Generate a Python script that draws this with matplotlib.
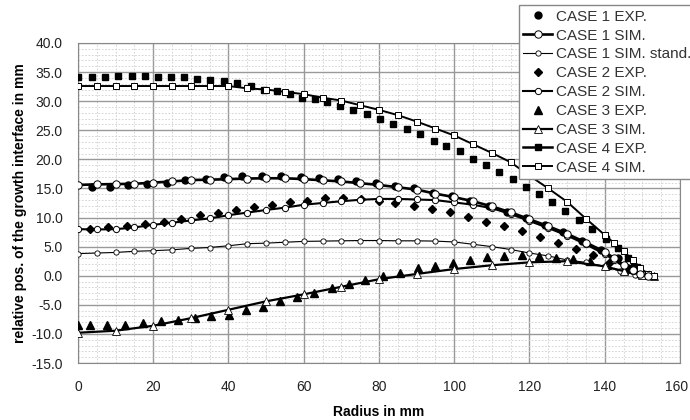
import matplotlib
matplotlib.use("Agg")
import matplotlib.pyplot as plt
from matplotlib.lines import Line2D
from matplotlib.ticker import MultipleLocator, FormatStrFormatter

plt.rcParams['font.family'] = ['Liberation Sans', 'DejaVu Sans']

# --- data ---
x_ticks = [0, 20, 40, 60, 80, 100, 120, 140, 160]

case1_exp_x = [3.6, 8.5, 13.4, 18.4, 23.6, 28.5, 33.9, 38.8, 43.6, 49.0,
               54.0, 59.2, 64.1, 69.0, 73.9, 79.2, 84.3, 89.3, 94.3, 99.4,
               104.3, 109.2, 114.1, 119.0, 124.0, 129.0, 134.0, 139.0, 143.5, 147.5]
case1_exp_y = [15.3, 15.2, 15.6, 15.8, 16.0, 16.4, 16.6, 17.0, 17.1, 17.1,
               17.1, 16.9, 16.8, 16.6, 16.2, 15.9, 15.4, 15.0, 14.3, 13.7,
               12.9, 12.0, 11.0, 9.9, 8.8, 7.5, 6.0, 4.5, 3.0, 1.5]

sim_x = [0, 5, 10, 15, 20, 25, 30, 35, 40, 45, 50, 55, 60, 65, 70, 75, 80, 85,
         90, 95, 100, 105, 110, 115, 120, 125, 130, 135, 140,
         142.5, 145, 147.5, 149.5, 151.5]
case1_sim_y = [15.6, 15.7, 15.75, 15.8, 16.0, 16.2, 16.45, 16.5, 16.6, 16.7,
               16.75, 16.75, 16.6, 16.4, 16.2, 15.9, 15.6, 15.2, 14.8, 14.1,
               13.5, 12.8, 11.9, 10.9, 9.7, 8.5, 7.2, 5.7, 4.1,
               3.0, 1.9, 1.0, 0.3, -0.1]
case2_sim_y = [8.0, 7.95, 8.0, 8.3, 8.75, 9.1, 9.5, 9.85, 10.4, 10.85,
               11.3, 11.7, 12.2, 12.5, 12.8, 13.05, 13.2, 13.2, 13.1, 13.0,
               12.6, 12.2, 11.6, 10.6, 9.4, 8.2, 6.9, 5.4, 3.7,
               2.7, 1.6, 0.8, 0.2, -0.1]

stand_x = [0, 5, 10, 15, 20, 25, 30, 35, 40, 45, 50, 55, 60, 65, 70, 75, 80,
           85, 90, 95, 100, 105, 110, 115, 120, 125, 130, 135, 140, 144, 148, 151.5]
stand_y = [3.8, 3.9, 4.0, 4.2, 4.3, 4.45, 4.7, 4.85, 5.15, 5.5,
           5.6, 5.75, 5.9, 5.95, 6.0, 6.05, 6.05, 6.0, 6.0, 5.95,
           5.8, 5.4, 5.0, 4.5, 3.9, 3.4, 2.7, 2.3, 1.6, 0.8, 0.2, 0.0]

case2_exp_x = [3.2, 8.1, 13.0, 17.9, 22.8, 27.5, 32.3, 37.2, 41.9, 46.8,
               51.5, 56.3, 61.0, 65.6, 70.4, 75.2, 80.0, 84.3, 89.3, 94.1,
               99.0, 103.6, 108.4, 113.2, 117.9, 122.7, 127.5, 132.3, 136.9, 141.5, 146.3]
case2_exp_y = [8.0, 8.3, 8.6, 8.9, 9.3, 9.8, 10.4, 10.8, 11.3, 11.8,
               12.2, 12.6, 12.9, 13.3, 13.3, 13.2, 12.9, 12.5, 12.0, 11.5,
               10.9, 10.1, 9.3, 8.6, 7.6, 6.65, 5.7, 4.6, 3.5, 2.4, 1.3]

case3_exp_x = [0, 3.2, 7.8, 12.6, 17.4, 22.0, 26.5, 31.2, 35.3, 40.1,
               44.7, 49.2, 53.8, 58.3, 62.7, 67.5, 71.9, 76.4, 81.0, 85.6,
               90.3, 95.0, 99.6, 104.2, 108.8, 113.3, 117.9, 122.6, 127.0, 131.6,
               136.2, 140.6, 145.0, 149.0]
case3_exp_y = [-8.5, -8.4, -8.5, -8.4, -8.1, -7.8, -7.6, -7.3, -7.0, -6.7,
               -5.9, -5.3, -4.4, -3.7, -2.95, -2.1, -1.5, -0.7, -0.1, 0.5,
               1.3, 1.7, 2.2, 2.75, 3.2, 3.4, 3.6, 3.35, 3.1, 2.8,
               2.45, 1.8, 1.0, 0.4]

case3_sim_x = [0, 10, 20, 30, 40, 50, 60, 70, 80, 90, 100, 110, 120, 130,
               140, 145, 150, 153]
case3_sim_y = [-9.8, -9.45, -8.6, -7.3, -5.85, -4.4, -3.2, -1.9, -0.6, 0.3,
               1.15, 1.8, 2.3, 2.5, 1.6, 0.8, 0.2, 0.0]

case4_exp_x = [0, 3.6, 7.2, 10.7, 14.3, 17.9, 21.2, 24.8, 28.3, 31.6,
               35.2, 38.8, 42.3, 45.9, 49.4, 52.8, 56.4, 59.6, 62.9, 66.3,
               69.7, 73.2, 76.8, 80.3, 83.8, 87.4, 90.9, 94.5, 97.9, 101.4,
               105.0, 108.4, 112.0, 115.5, 119.0, 122.5, 126.0, 129.4, 133.2, 136.5,
               140.3, 143.6, 146.1, 148.5]
case4_exp_y = [34.2, 34.2, 34.2, 34.4, 34.4, 34.4, 34.2, 34.2, 34.1, 33.8,
               33.7, 33.4, 33.1, 32.6, 32.0, 31.8, 31.2, 30.6, 30.3, 29.8,
               29.2, 28.5, 27.8, 26.9, 26.1, 25.2, 24.4, 23.2, 22.3, 21.4,
               20.1, 19.0, 17.9, 16.6, 15.2, 14.0, 12.7, 11.1, 9.6, 8.1,
               6.3, 4.8, 3.0, 1.5]

case4_sim_x = [0, 5, 10, 15, 20, 25, 30, 35, 40, 45, 50, 55, 60, 65, 70, 75, 80,
               85, 90, 95, 100, 105, 110, 115, 120, 125, 130, 135, 140,
               142.5, 145, 147.5, 149.5, 151.5, 153]
case4_sim_y = [32.6, 32.6, 32.6, 32.6, 32.6, 32.6, 32.6, 32.6, 32.6, 32.2,
               32.0, 31.6, 31.2, 30.6, 30.1, 29.3, 28.5, 27.6, 26.5, 25.3,
               24.1, 22.6, 21.1, 19.5, 17.2, 15.0, 12.7, 9.8, 7.0,
               5.6, 4.2, 2.7, 1.3, 0.3, 0.0]

labels = ['CASE 1 EXP.', 'CASE 1 SIM.', 'CASE 1 SIM. stand.', 'CASE 2 EXP.',
          'CASE 2 SIM.', 'CASE 3 EXP.', 'CASE 3 SIM.', 'CASE 4 EXP.', 'CASE 4 SIM.']

fig = plt.figure(figsize=(6.9, 4.2), dpi=100)
ax = fig.add_axes([0.113, 0.1357, 0.8725, 0.762])

# experiments (markers only)
ax.plot(case1_exp_x, case1_exp_y, 'o', color='black', ms=5, zorder=3)
ax.plot(case2_exp_x, case2_exp_y, 'D', color='black', ms=4.5, zorder=3)
ax.plot(case3_exp_x, case3_exp_y, '^', color='black', ms=6, zorder=3)
ax.plot(case4_exp_x, case4_exp_y, 's', color='black', ms=4.8, zorder=3)

# simulations (lines with open markers)
ax.plot(stand_x, stand_y, '-o', color='black', lw=0.8, ms=3.8, mfc='white', mew=0.6, zorder=4)
ax.plot(sim_x, case2_sim_y, '-o', color='black', lw=1.5, ms=4.5, mfc='white', mew=0.7, zorder=4)
ax.plot(sim_x, case1_sim_y, '-o', color='black', lw=1.9, ms=5.3, mfc='white', mew=0.7, zorder=5)
ax.plot(case3_sim_x, case3_sim_y, '-^', color='black', lw=1.6, ms=5.3, mfc='white', mew=0.6, zorder=4)
ax.plot(case4_sim_x, case4_sim_y, '-s', color='black', lw=1.4, ms=5, mfc='white', mew=0.7, zorder=4)

ax.set_xlim(0, 160)
ax.set_ylim(-15, 40)
# last label drawn separately so it is not clipped at the right edge
ax.set_xticks(x_ticks, labels=[str(t) for t in x_ticks[:-1]] + [''])
ax.xaxis.set_minor_locator(MultipleLocator(5))
ax.yaxis.set_major_locator(MultipleLocator(5))
ax.yaxis.set_minor_locator(MultipleLocator(1))
ax.yaxis.set_major_formatter(FormatStrFormatter('%.1f'))

ax.grid(which='major', color='#999999', lw=1.0)
ax.grid(which='minor', color='#cfcfcf', lw=0.6, linestyle=(0, (2, 2)))
ax.set_axisbelow(True)
for s in ax.spines.values():
    s.set_color('#888888')
ax.tick_params(which='both', length=0, labelsize=10, colors='#222222')
ax.tick_params(axis='x', pad=12)
ax.tick_params(axis='y', pad=11)

ax.annotate(str(x_ticks[-1]), xy=(x_ticks[-1], 0), xycoords=('data', 'axes fraction'),
            xytext=(-2.5, -12), textcoords='offset points', ha='center', va='top',
            fontsize=10, color='#222222')

ax.set_xlabel('Radius in mm', fontsize=10, fontweight='bold', labelpad=8)
ax.set_ylabel('relative pos. of the growth interface in mm', fontsize=10,
              fontweight='bold', labelpad=3)

# legend proxies
handles = [
    Line2D([], [], ls='none', marker='o', color='black', ms=5),
    Line2D([], [], ls='-', lw=1.9, marker='o', color='black', ms=5.3, mfc='white', mew=0.7),
    Line2D([], [], ls='-', lw=0.8, marker='o', color='black', ms=3.8, mfc='white', mew=0.6),
    Line2D([], [], ls='none', marker='D', color='black', ms=4.5),
    Line2D([], [], ls='-', lw=1.5, marker='o', color='black', ms=4.5, mfc='white', mew=0.7),
    Line2D([], [], ls='none', marker='^', color='black', ms=6),
    Line2D([], [], ls='-', lw=1.6, marker='^', color='black', ms=5.3, mfc='white', mew=0.6),
    Line2D([], [], ls='-', lw=1.8, marker='s', color='black', ms=4.8),
    Line2D([], [], ls='-', lw=1.4, marker='s', color='black', ms=5, mfc='white', mew=0.7),
]
leg = fig.legend(handles, labels, loc='upper left', bbox_to_anchor=(0.752, 0.988),
                 fontsize=11, frameon=True, fancybox=False, framealpha=1,
                 edgecolor='#888888', handlelength=1.9, handletextpad=0.2,
                 labelspacing=0.32, borderpad=0.3, borderaxespad=0)
leg.get_frame().set_linewidth(1.0)
for t in leg.get_texts():
    t.set_color('#333333')

fig.savefig('out.png', dpi=100)
